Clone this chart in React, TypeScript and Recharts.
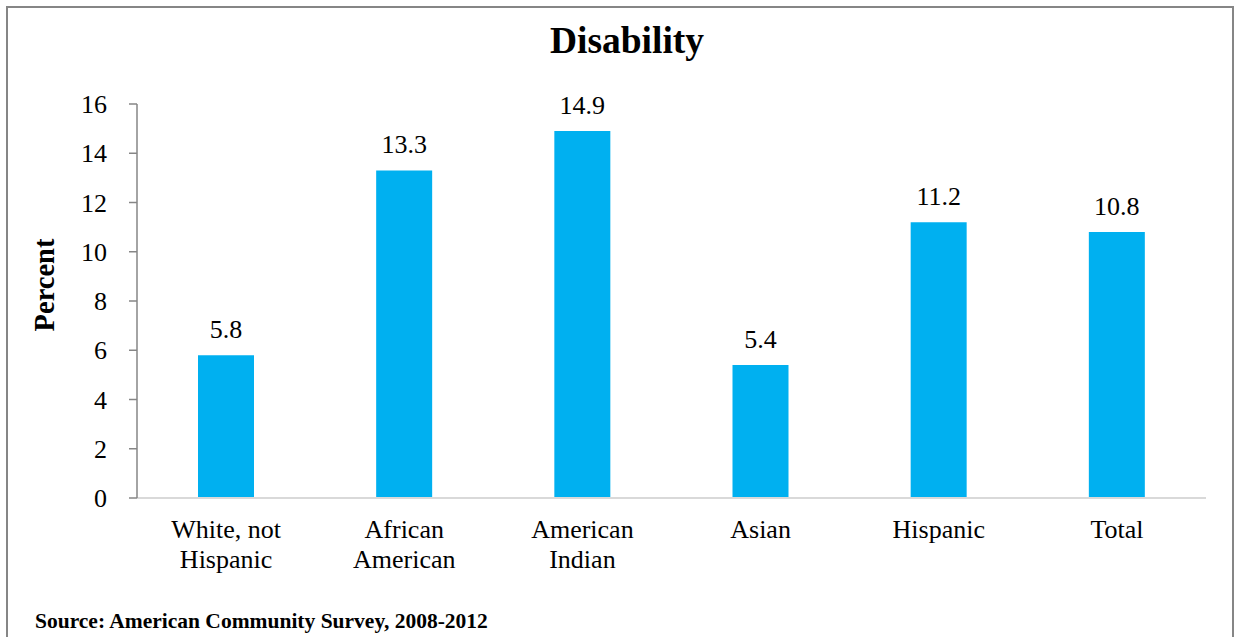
import React from "react";
import { BarChart, Bar, XAxis, YAxis, LabelList } from "recharts";

const categories = ["White, not\nHispanic", "African\nAmerican", "American\nIndian", "Asian", "Hispanic", "Total"];
const values = [5.8, 13.3, 14.9, 5.4, 11.2, 10.8];
const yTicks = [0, 2, 4, 6, 8, 10, 12, 14, 16];
const boundaryTicks = [0, 1, 2, 3, 4, 5, 6];

const data = categories.map((c, i) => ({ name: c, value: values[i] }));

const FONT = "'Liberation Serif', 'Times New Roman', serif";
const FS = 26;

const CatTick = (props: any) => {
  const { x, y, payload } = props;
  const lines = String(payload.value).split("\n");
  return (
    <text x={x} y={y} textAnchor="middle" style={{ fontFamily: FONT, fontSize: FS }} fill="#000">
      {lines.map((l: string, i: number) => (
        <tspan key={i} x={x} dy={i === 0 ? 31 : 30}>
          {l}
        </tspan>
      ))}
    </text>
  );
};

export default function App() {
  return (
    <div style={{ position: "absolute", left: 0, top: 0, width: 1236, height: 637, background: "#fff", overflow: "hidden", fontFamily: FONT }}>
      <div
        style={{
          position: "absolute",
          left: 6,
          top: 6,
          width: 1228,
          height: 660,
          border: "2px solid #868686",
          boxSizing: "border-box",
        }}
      />
      <div
        style={{
          position: "absolute",
          left: 0,
          width: 1254,
          top: 17,
          textAlign: "center",
          fontFamily: FONT,
          fontWeight: "bold",
          fontSize: 37.5,
          lineHeight: "48px",
        }}
      >
        Disability
      </div>
      <div
        style={{
          position: "absolute",
          left: 45,
          top: 285,
          transform: "translate(-50%, -50%) rotate(-90deg)",
          fontFamily: FONT,
          fontWeight: "bold",
          fontSize: 28.5,
          whiteSpace: "nowrap",
        }}
      >
        Percent
      </div>
      <div
        style={{
          position: "absolute",
          left: 35,
          top: 608,
          fontFamily: FONT,
          fontWeight: "bold",
          fontSize: 21.5,
          lineHeight: "26px",
          whiteSpace: "nowrap",
        }}
      >
        Source: American Community Survey, 2008-2012
      </div>
      <div style={{ position: "absolute", left: 0, top: 0, fontFamily: FONT }}>
        <BarChart
          width={1236}
          height={637}
          data={data}
          margin={{ top: 104, right: 30, bottom: 0, left: 77 }}
          barCategoryGap={0}
          style={{ fontFamily: FONT }}
        >
          <XAxis
            xAxisId="bounds"
            type="number"
            dataKey="value"
            domain={[0, 6]}
            ticks={boundaryTicks}
            allowDataOverflow
            height={1}
            tick={false}
            tickSize={7}
            axisLine={{ stroke: "#d9d9d9", strokeWidth: 2 }}
            tickLine={{ stroke: "#d9d9d9", strokeWidth: 2 }}
          />
          <XAxis
            xAxisId="cat"
            dataKey="name"
            height={138}
            axisLine={false}
            tickLine={false}
            tick={<CatTick />}
            interval={0}
          />
          <YAxis
            domain={[0, 16]}
            ticks={yTicks}
            width={60}
            tickSize={8}
            tickMargin={22}
            axisLine={{ stroke: "#868686", strokeWidth: 1.5 }}
            tickLine={{ stroke: "#868686", strokeWidth: 1.5 }}
            tick={{ fontSize: FS, fill: "#000", style: { fontFamily: FONT } }}
          />
          <Bar dataKey="value" xAxisId="cat" fill="#00B0F0" barSize={56} isAnimationActive={false}>
            <LabelList
              dataKey="value"
              position="top"
              offset={17}
              fill="#000"
              style={{ fontFamily: FONT, fontSize: FS, fill: "#000" }}
            />
          </Bar>
        </BarChart>
      </div>
    </div>
  );
}
